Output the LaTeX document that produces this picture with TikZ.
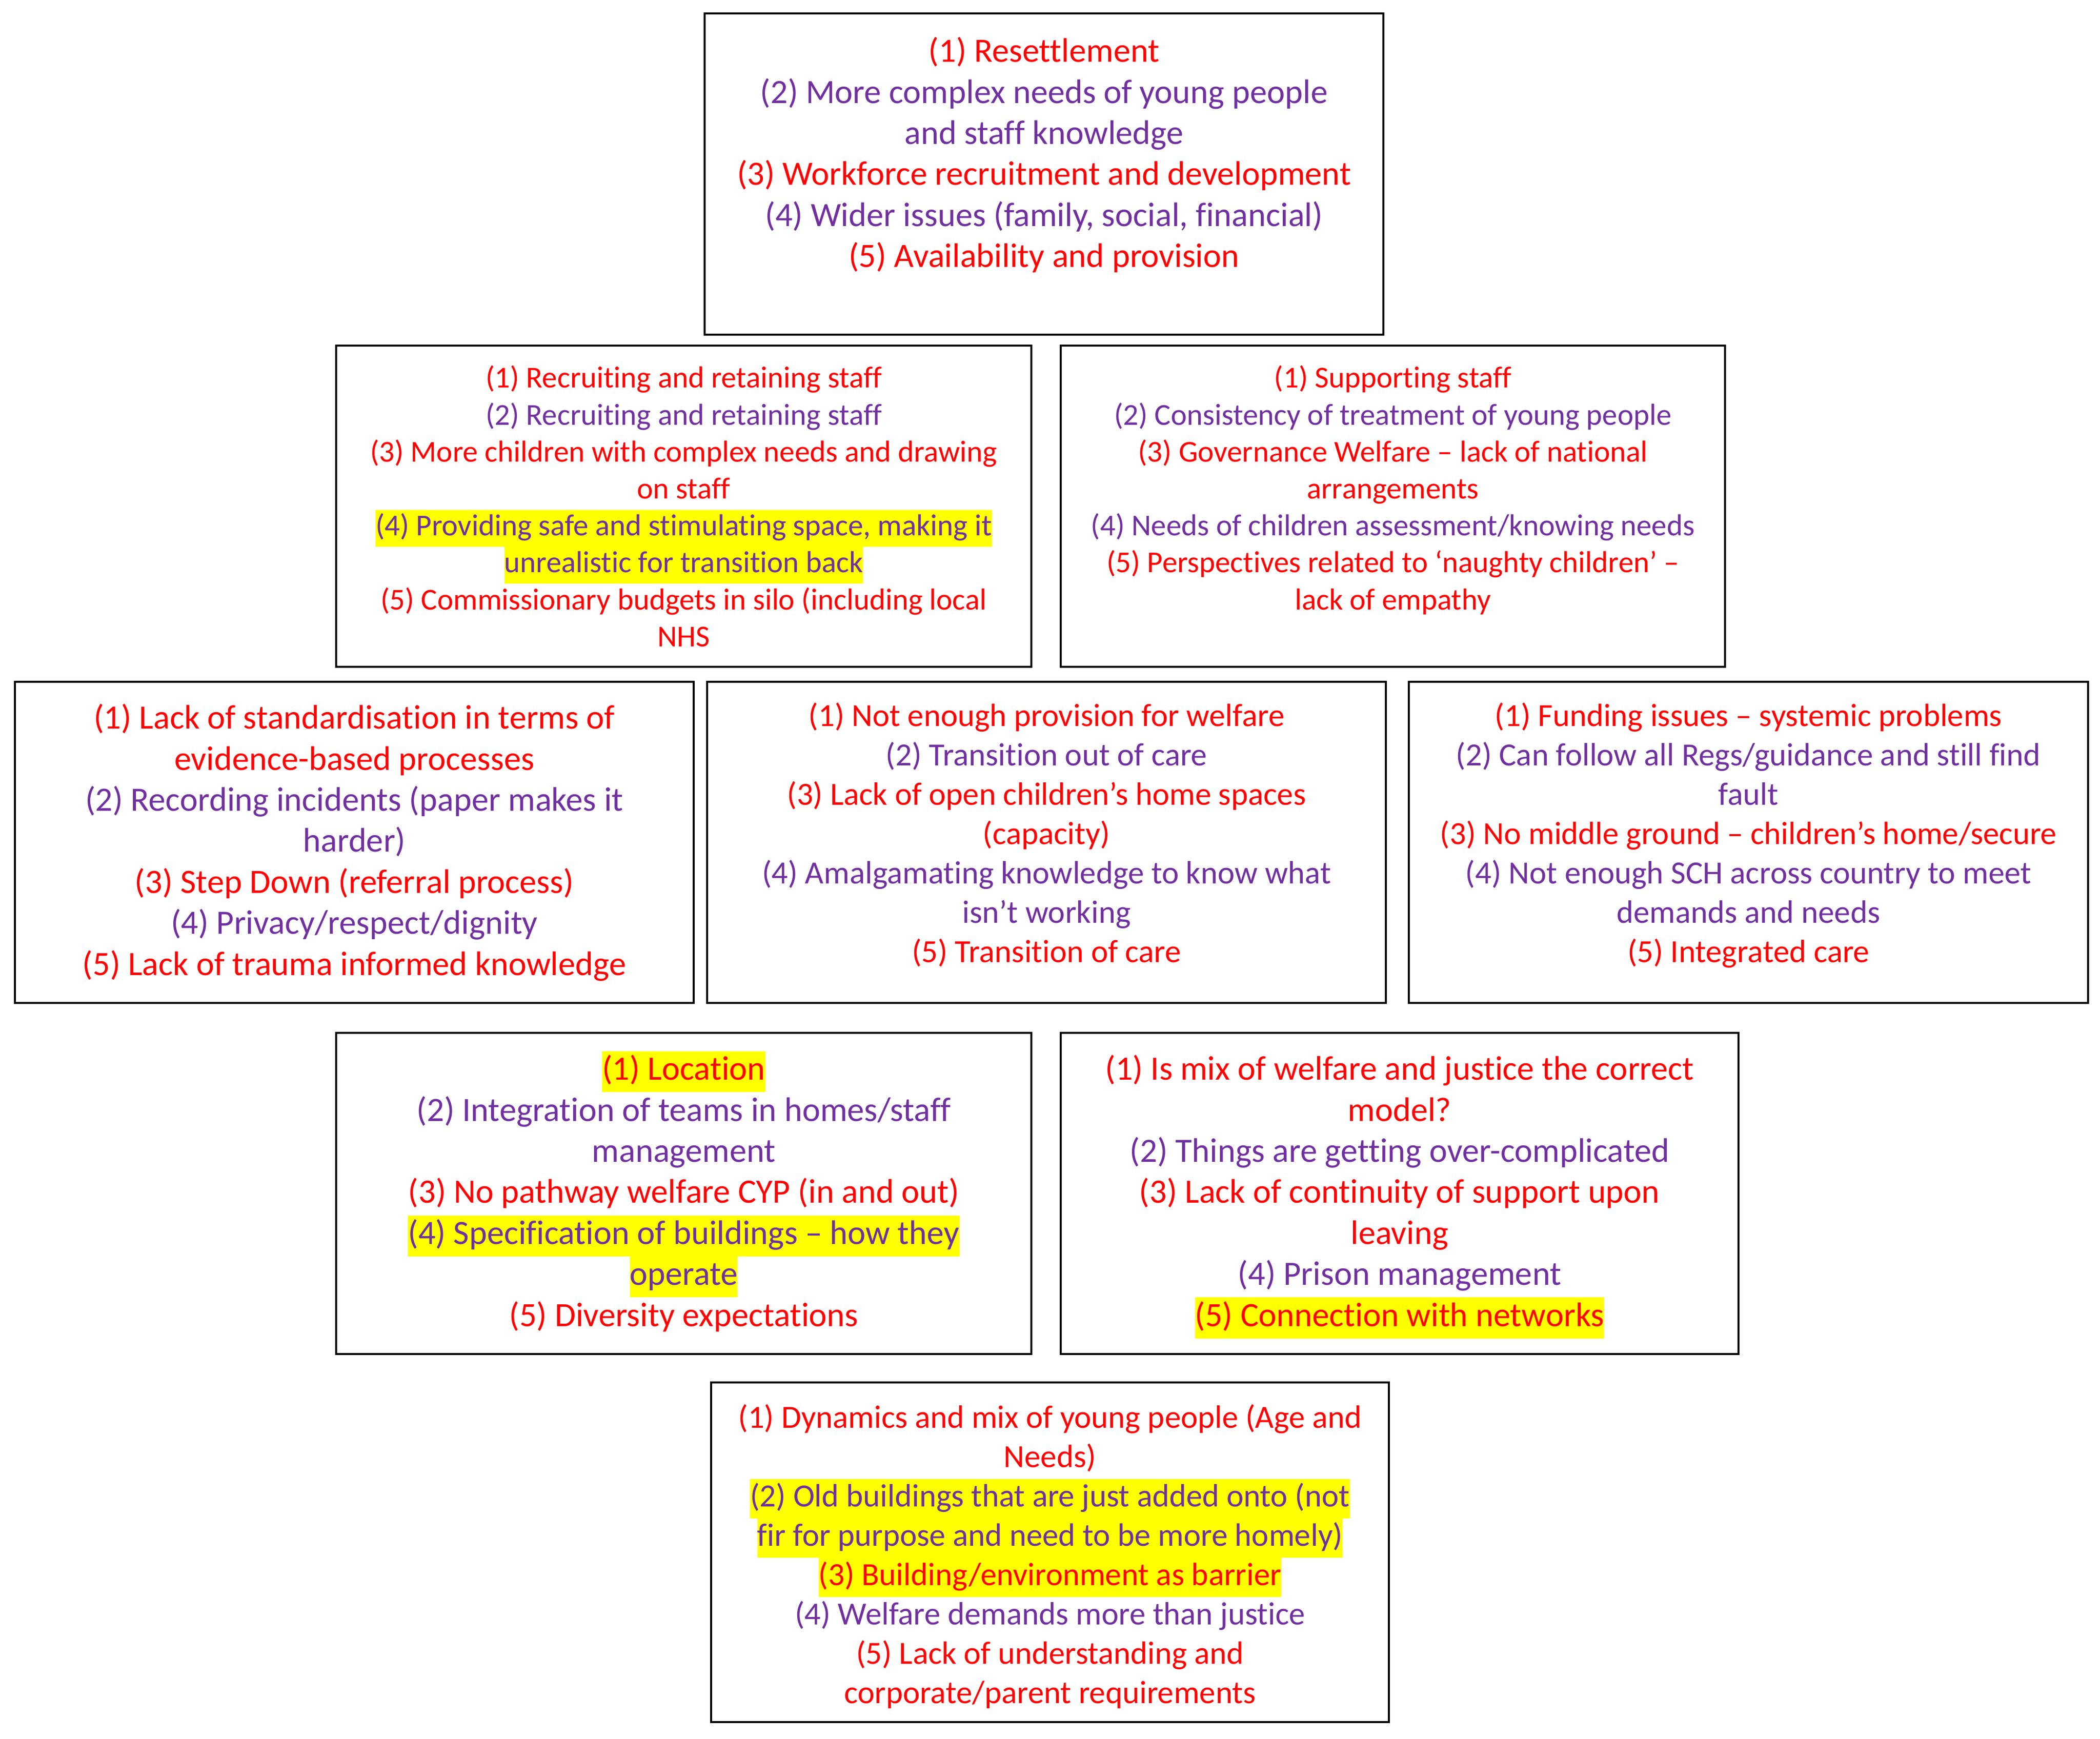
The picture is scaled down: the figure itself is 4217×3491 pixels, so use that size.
\documentclass[tikz,border=0pt]{standalone}
\usepackage{fontspec}
\setmainfont{Carlito}[Ligatures=NoCommon]
\usepackage{xcolor}
\definecolor{cred}{HTML}{FF0000}
\definecolor{cpur}{HTML}{7030A0}
\definecolor{chl}{HTML}{FFFF00}
\newcommand{\Rl}[1]{\textcolor{cred}{\strut #1}}
\newcommand{\Pl}[1]{\textcolor{cpur}{\strut #1}}
\newcommand{\Hl}[1]{{\setlength{\fboxsep}{0pt}\colorbox{chl}{#1}}}
\tikzset{
  panel/.style={draw=black, line width=0.9pt, fill=white, inner sep=0pt},
  txtbig/.style={anchor=north, align=center, inner sep=0pt, font=\fontsize{17.1}{20.6}\selectfont},
  txtmid/.style={anchor=north, align=center, inner sep=0pt, font=\fontsize{16.2}{19.75}\selectfont},
  txtsmall/.style={anchor=north, align=center, inner sep=0pt, font=\fontsize{15.25}{18.55}\selectfont},
}
\begin{document}
\begin{tikzpicture}[x=0.25pt,y=-0.25pt]
\useasboundingbox[fill=white] (0,0) rectangle (4217,3491);
% boxes
\node[panel, minimum width=340.75pt, minimum height=161.25pt] (A) at (2096.5,349.5) {};
\node[panel, minimum width=349pt, minimum height=161.25pt] (B) at (1373,1016.5) {};
\node[panel, minimum width=333.5pt, minimum height=161.25pt] (C) at (2797,1016.5) {};
\node[panel, minimum width=340.75pt, minimum height=161.25pt] (D) at (711.5,1691.5) {};
\node[panel, minimum width=340.75pt, minimum height=161.25pt] (E) at (2101.5,1691.5) {};
\node[panel, minimum width=341pt, minimum height=161.25pt] (F) at (3511,1691.5) {};
\node[panel, minimum width=349pt, minimum height=161.25pt] (G) at (1373,2396.5) {};
\node[panel, minimum width=340.25pt, minimum height=161.25pt] (H) at (2810.5,2396.5) {};
\node[panel, minimum width=340.25pt, minimum height=170.5pt] (I) at (2108.5,3117) {};
% texts
\node[txtbig] (At) at ([yshift=-10.25pt]A.north) {%
\Rl{(1) Resettlement}\\
\Pl{(2) More complex needs of young people}\\
\Pl{and staff knowledge}\\
\Rl{(3) Workforce recruitment and development}\\
\Pl{(4) Wider issues (family, social, financial)}\\
\Rl{(5) Availability and provision}};
\node[txtsmall] (Bt) at ([yshift=-8.5pt]B.north) {%
\Rl{(1) Recruiting and retaining staff}\\
\Pl{(2) Recruiting and retaining staff}\\
\Rl{(3) More children with complex needs and drawing}\\
\Rl{on staff}\\
\Hl{\Pl{(4) Providing safe and stimulating space, making it}}\\
\Hl{\Pl{unrealistic for transition back}}\\
\Rl{(5) Commissionary budgets in silo (including local}\\
\Rl{NHS}};
\node[txtsmall] (Ct) at ([yshift=-8.5pt]C.north) {%
\Rl{(1) Supporting staff}\\
\Pl{(2) Consistency of treatment of young people}\\
\Rl{(3) Governance Welfare – lack of national}\\
\Rl{arrangements}\\
\Pl{(4) Needs of children assessment/knowing needs}\\
\Rl{(5) Perspectives related to ‘naughty children’ –}\\
\Rl{lack of empathy}};
\node[txtbig] (Dt) at ([yshift=-9.5pt]D.north) {%
\Rl{(1) Lack of standardisation in terms of}\\
\Rl{evidence-based processes}\\
\Pl{(2) Recording incidents (paper makes it}\\
\Pl{harder)}\\
\Rl{(3) Step Down (referral process)}\\
\Pl{(4) Privacy/respect/dignity}\\
\Rl{(5) Lack of trauma informed knowledge}};
\node[txtmid] (Et) at ([yshift=-8.75pt]E.north) {%
\Rl{(1) Not enough provision for welfare}\\
\Pl{(2) Transition out of care}\\
\Rl{(3) Lack of open children’s home spaces}\\
\Rl{(capacity)}\\
\Pl{(4) Amalgamating knowledge to know what}\\
\Pl{isn’t working}\\
\Rl{(5) Transition of care}};
\node[txtmid] (Ft) at ([yshift=-8.75pt]F.north) {%
\Rl{(1) Funding issues – systemic problems}\\
\Pl{(2) Can follow all Regs/guidance and still find}\\
\Pl{fault}\\
\Rl{(3) No middle ground – children’s home/secure}\\
\Pl{(4) Not enough SCH across country to meet}\\
\Pl{demands and needs}\\
\Rl{(5) Integrated care}};
\node[txtbig] (Gt) at ([yshift=-9.5pt]G.north) {%
\Hl{\Rl{(1) Location}}\\
\Pl{(2) Integration of teams in homes/staff}\\
\Pl{management}\\
\Rl{(3) No pathway welfare CYP (in and out)}\\
\Hl{\Pl{(4) Specification of buildings – how they}}\\
\Hl{\Pl{operate}}\\
\Rl{(5) Diversity expectations}};
\node[txtbig] (Ht) at ([yshift=-9.5pt]H.north) {%
\Rl{(1) Is mix of welfare and justice the correct}\\
\Rl{model?}\\
\Pl{(2) Things are getting over-complicated}\\
\Rl{(3) Lack of continuity of support upon}\\
\Rl{leaving}\\
\Pl{(4) Prison management}\\
\Hl{\Rl{(5) Connection with networks}}};
\node[txtmid] (It) at ([yshift=-9.25pt]I.north) {%
\Rl{(1) Dynamics and mix of young people (Age and}\\
\Rl{Needs)}\\
\Hl{\Pl{(2) Old buildings that are just added onto (not}}\\
\Hl{\Pl{fir for purpose and need to be more homely)}}\\
\Hl{\Rl{(3) Building/environment as barrier}}\\
\Pl{(4) Welfare demands more than justice}\\
\Rl{(5) Lack of understanding and}\\
\Rl{corporate/parent requirements}};
\end{tikzpicture}
\end{document}
